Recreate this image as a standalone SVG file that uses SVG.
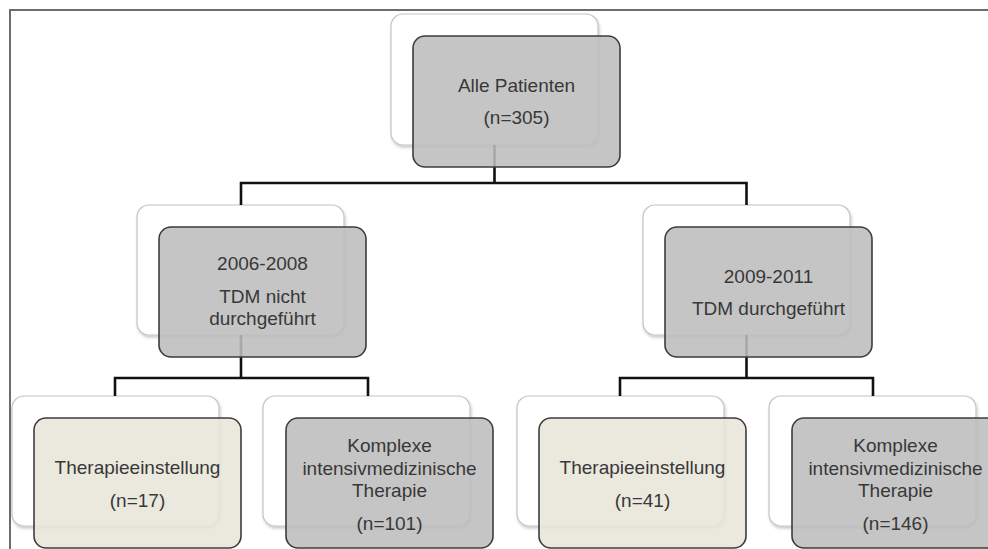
<svg xmlns="http://www.w3.org/2000/svg" width="988" height="549" viewBox="0 0 988 549">
<style>
.back{fill:#ffffff;stroke:#c4c4c4;stroke-width:1.2;filter:url(#sh)}
.front{stroke:#3c3c3c;stroke-width:1.6;fill-opacity:0.88}
.gray{fill:#bdbdbd}
.beige{fill:#e8e5da}
.conn{fill:none;stroke:#111;stroke-width:2.6}
.frame{fill:none;stroke:#6c6c6c;stroke-width:2}
text{font-family:"Liberation Sans",Arial,sans-serif;font-size:19px;fill:#383838;text-anchor:middle}
</style>
<defs>
<filter id="sh" x="-10%" y="-10%" width="120%" height="125%">
<feDropShadow dx="1" dy="2" stdDeviation="1.5" flood-color="#000" flood-opacity="0.22"/>
</filter>
</defs>
<rect x="0" y="0" width="988" height="549" fill="#ffffff"/>
<path class="frame" d="M10,549 V10 H988"/>

<g id="backs">
<rect class="back" x="391" y="14" width="207" height="131" rx="12"/>
<rect class="back" x="137" y="205" width="207" height="130" rx="12"/>
<rect class="back" x="643" y="205" width="207" height="130" rx="12"/>
<rect class="back" x="12" y="396" width="207" height="130" rx="12"/>
<rect class="back" x="263" y="396" width="207" height="130" rx="12"/>
<rect class="back" x="517" y="396" width="207" height="130" rx="12"/>
<rect class="back" x="769" y="396" width="207" height="130" rx="12"/>
</g>

<g id="connectors">
<path class="conn" d="M494.5,145 V183 M241,183 H746.5 M241,181.7 V205 M746.5,181.7 V205"/>
<path class="conn" d="M241,335 V378 M115,378 H368 M115,376.7 V396 M368,376.7 V396"/>
<path class="conn" d="M746.5,335 V378 M620,378 H873 M620,376.7 V396 M873,376.7 V396"/>
</g>

<g id="n-alle">
<rect class="front gray" x="413" y="36" width="207" height="131" rx="12"/>
<text x="516.5" y="92">Alle Patienten</text>
<text x="516.5" y="124">(n=305)</text>
</g>

<g id="n-2006">
<rect class="front gray" x="159" y="227" width="207" height="130" rx="12"/>
<text x="262.5" y="270">2006-2008</text>
<text x="262.5" y="303">TDM nicht</text>
<text x="262.5" y="325">durchgeführt</text>
</g>

<g id="n-2009">
<rect class="front gray" x="665" y="227" width="207" height="130" rx="12"/>
<text x="768.5" y="283">2009-2011</text>
<text x="768.5" y="315">TDM durchgeführt</text>
</g>

<g id="n-ther1">
<rect class="front beige" x="34" y="418" width="207" height="130" rx="12"/>
<text x="137.5" y="474">Therapieeinstellung</text>
<text x="137.5" y="507">(n=17)</text>
</g>

<g id="n-komp1">
<rect class="front gray" x="286" y="418" width="207" height="130" rx="12"/>
<text x="389.5" y="452">Komplexe</text>
<text x="389.5" y="475">intensivmedizinische</text>
<text x="389.5" y="497">Therapie</text>
<text x="389.5" y="530">(n=101)</text>
</g>

<g id="n-ther2">
<rect class="front beige" x="539" y="418" width="207" height="130" rx="12"/>
<text x="642.5" y="474">Therapieeinstellung</text>
<text x="642.5" y="507">(n=41)</text>
</g>

<g id="n-komp2">
<rect class="front gray" x="792" y="418" width="207" height="130" rx="12"/>
<text x="895.5" y="452">Komplexe</text>
<text x="895.5" y="475">intensivmedizinische</text>
<text x="895.5" y="497">Therapie</text>
<text x="895.5" y="530">(n=146)</text>
</g>
</svg>
